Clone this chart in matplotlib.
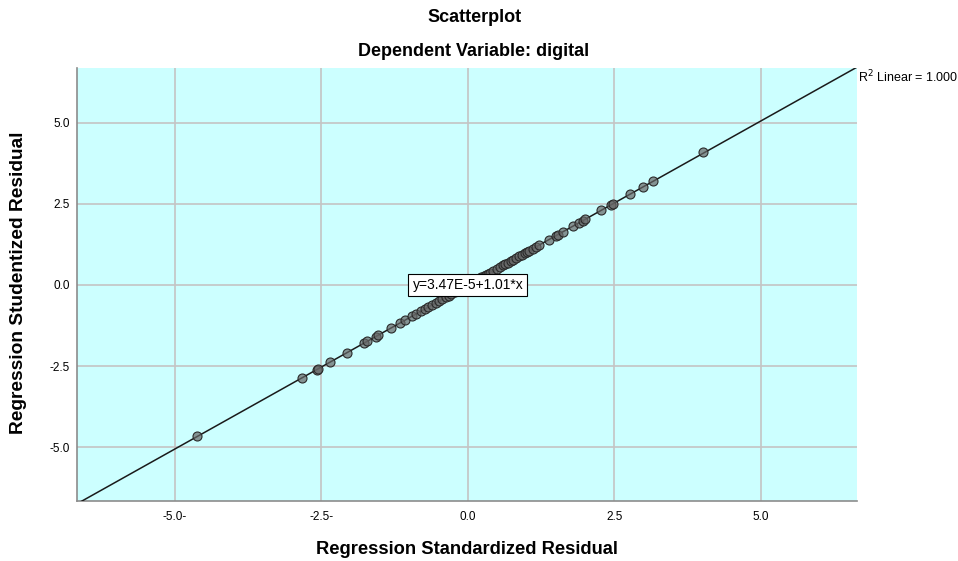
import matplotlib
matplotlib.use("Agg")
import matplotlib.pyplot as plt
import numpy as np

plt.rcParams['font.family'] = ['Liberation Sans', 'DejaVu Sans']

# Residual pairs (standardized, studentized)
std_resid = [-4.62, -2.83, -2.58, -2.55, -2.36, -2.06, -1.77, -1.72, -1.57, -1.54,
             -1.31, -1.16, -1.08, -0.96, -0.88, -0.80, -0.74, -0.68, -0.62, -0.55,
             -0.50, -0.44, -0.38, -0.33, -0.28, -0.22, -0.17, -0.12, -0.08, -0.03,
             0.02, 0.06, 0.10, 0.14, 0.19, 0.23, 0.27, 0.31, 0.35, 0.38,
             0.43, 0.49, 0.55, 0.60, 0.63, 0.68, 0.73, 0.77, 0.82, 0.87,
             0.92, 0.97, 1.00, 1.05, 1.11, 1.16, 1.21, 1.38, 1.50, 1.53,
             1.62, 1.79, 1.89, 1.96, 2.00, 2.27, 2.44, 2.47, 2.76, 2.99,
             3.16, 4.01]
stud_resid = [-4.66, -2.86, -2.61, -2.58, -2.38, -2.08, -1.79, -1.74, -1.59, -1.55,
              -1.32, -1.17, -1.09, -0.97, -0.89, -0.81, -0.75, -0.69, -0.63, -0.56,
              -0.50, -0.44, -0.38, -0.33, -0.28, -0.22, -0.17, -0.12, -0.08, -0.03,
              0.02, 0.06, 0.10, 0.14, 0.19, 0.23, 0.27, 0.31, 0.35, 0.38,
              0.43, 0.49, 0.56, 0.61, 0.64, 0.69, 0.74, 0.78, 0.83, 0.88,
              0.93, 0.98, 1.01, 1.06, 1.12, 1.17, 1.22, 1.39, 1.51, 1.54,
              1.64, 1.81, 1.91, 1.98, 2.02, 2.30, 2.47, 2.50, 2.80, 3.03,
              3.20, 4.08]

fit_intercept = 3.47e-5
fit_slope = 1.01

x_ticks = [-5.0, -2.5, 0.0, 2.5, 5.0]
x_tick_labels = ["-5.0-", "-2.5-", "0.0", "2.5", "5.0"]
y_ticks = [-5.0, -2.5, 0.0, 2.5, 5.0]
y_tick_labels = ["-5.0", "-2.5", "0.0", "2.5", "5.0"]

fig = plt.figure(figsize=(9.58, 5.61), dpi=100)
ax = fig.add_axes([0.0804, 0.1070, 0.8142, 0.7718])
ax.set_facecolor('#CCFFFF')

xmin, xmax = -6.67, 6.64
ymin, ymax = -6.65, 6.68
ax.set_xlim(xmin, xmax)
ax.set_ylim(ymin, ymax)

ax.set_xticks(x_ticks)
ax.set_xticklabels(x_tick_labels, fontsize=8.5)
ax.set_yticks(y_ticks)
ax.set_yticklabels(y_tick_labels, fontsize=8.5)
ax.tick_params(axis='x', length=0, pad=7)
ax.tick_params(axis='y', length=0, pad=5)
ax.grid(True, color='#C4C4C4', linewidth=1.2)
ax.set_axisbelow(True)

for side in ('top', 'right'):
    ax.spines[side].set_visible(False)
for side in ('left', 'bottom'):
    ax.spines[side].set_color('#8C8C8C')
    ax.spines[side].set_linewidth(1.2)

# fit line across the full x range
lx = np.array([xmin, xmax])
ax.plot(lx, fit_intercept + fit_slope * lx, color='#1a1a1a', linewidth=1.1, zorder=3)

ax.scatter(std_resid, stud_resid, s=42, facecolor=(0.40, 0.40, 0.40, 0.7),
           edgecolor='#2a2a2a', linewidth=0.8, zorder=4)

ax.text(0.0, 0.0, "y=3.47E-5+1.01*x", fontsize=10, ha='center', va='center',
        zorder=5, bbox=dict(boxstyle='square,pad=0.3', facecolor='white',
                            edgecolor='black', linewidth=0.8))

fig.text(858 / 958, 1 - 77 / 561, r"R$^2$ Linear = 1.000", fontsize=9,
         ha='left', va='center')

fig.text(475 / 958, 1 - 17 / 561, "Scatterplot", fontsize=13, fontweight='bold',
         ha='center', va='center')
fig.text(474 / 958, 1 - 52 / 561, "Dependent Variable: digital", fontsize=13,
         fontweight='bold', ha='center', va='center')

fig.text(467 / 958, 1 - 550 / 561, "Regression Standardized Residual",
         fontsize=13.2, fontweight='bold', ha='center', va='center')
fig.text(19 / 958, 1 - 283 / 561, "Regression Studentized Residual",
         fontsize=13.8, fontweight='bold', ha='center', va='center', rotation=90)

fig.savefig("out.png", dpi=100)
